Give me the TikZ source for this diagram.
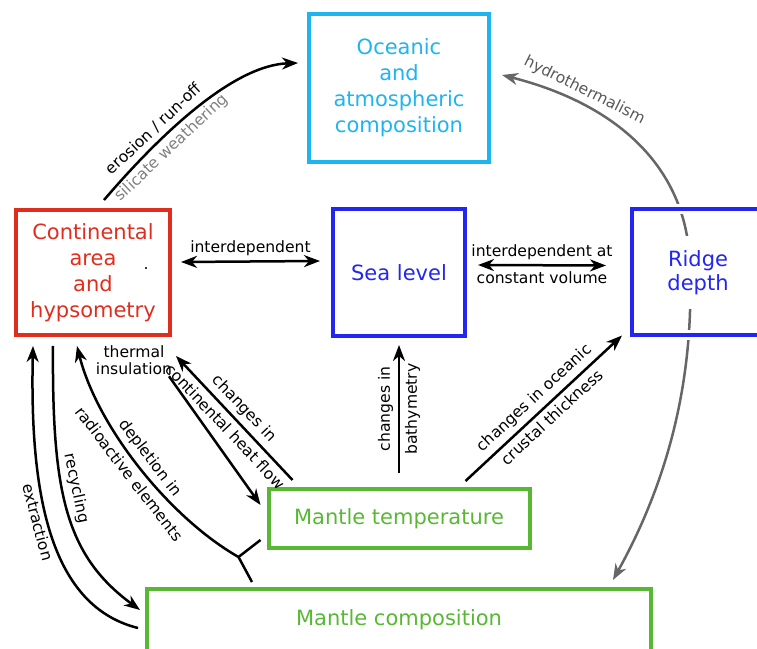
\documentclass[tikz,border=0pt]{standalone}
\usepackage{fontspec}
\setmainfont{DejaVu Sans}
\usepackage{xcolor}
\usepackage{tikz}
\usetikzlibrary{arrows.meta,positioning,backgrounds}
\definecolor{oceanblue}{RGB}{30,180,240}
\definecolor{crustred}{RGB}{224,46,30}
\definecolor{levelblue}{RGB}{34,38,240}
\definecolor{mantlegreen}{RGB}{88,184,52}
\tikzset{
  >={Stealth[length=16pt,width=12pt,inset=5pt]},
  mbox/.style={
    draw,
    line width=4pt,
    align=center,
    inner sep=2pt,
    font=\fontsize{21}{26}\selectfont
  },
  mlab/.style={font=\fontsize{15.6}{16.5}\selectfont,inner xsep=2pt,inner ysep=6pt,outer sep=0pt,align=center},
  mflow/.style={->,draw=black,line width=2.5pt},
  mboth/.style={<->,draw=black,line width=2.5pt},
  mline/.style={draw=black,line width=2.5pt},
  mhydro/.style={->,draw=black!60,line width=2.5pt}
}
\begin{document}
\begin{tikzpicture}[x=1pt,y=1pt]
  \clip (0,0) rectangle (757,648);
  \node[mbox,color=levelblue,minimum width=132pt,minimum height=127pt] (sea) at (399,375.5) {Sea level};
  \node[mbox,color=oceanblue,minimum width=180pt,minimum height=148pt,above=43pt of sea] (ocean) {Oceanic\\and\\atmospheric\\composition};
  \node[mbox,color=crustred,minimum width=154pt,minimum height=125pt,left=159pt of sea] (cont) {Continental\\area\\and\\hypsometry};
  \node[mbox,color=levelblue,minimum width=132pt,minimum height=126pt,right=163pt of sea,
    preaction={draw=white,line width=10pt},
    label={[fill=white,text=levelblue,align=center,font=\fontsize{21}{24}\selectfont,inner xsep=2pt,inner ysep=14.5pt]center:Ridge\\depth}] (ridge) {};
  \node[mbox,color=mantlegreen,minimum width=261pt,minimum height=59pt,below=149pt of sea] (temp) {Mantle temperature};
  \node[mbox,color=mantlegreen,minimum width=504pt,minimum height=80pt,text depth=22pt,below=37pt of temp] (comp) {Mantle composition};
  \node[mlab,inner sep=0pt] (dot) at ([shift={(-26pt,3.5pt)}]cont.east) {.};
  \node[mlab,inner sep=2pt] (insul) at ([shift={(41pt,-23pt)}]cont.south) {thermal\\insulation};

  \coordinate (rmid) at ([shift={(-8pt,2pt)}]ridge.center);
  \coordinate (junc) at ([shift={(-28pt,-7pt)}]temp.south west);
  \begin{scope}[on background layer]
    \draw[mhydro] (rmid) .. controls +(0pt,100pt) and +(118pt,-30pt) .. node[pos=0.76,sloped,above,mlab,text=black!65] {hydrothermalism} ([shift={(11pt,13pt)}]ocean.east);
    \draw[mhydro] (rmid) .. controls +(4pt,-120pt) and +(50pt,90pt) .. ([shift={(214pt,7pt)}]comp.north);
  \end{scope}

  \draw[mflow] ([shift={(11pt,8pt)}]cont.north) .. controls +(60pt,70pt) and +(-63pt,-2pt) .. node[pos=0.31,sloped,above,mlab] {erosion / run-off} node[pos=0.31,sloped,below,mlab,text=black!50] {silicate weathering} ([shift={(-9pt,25pt)}]ocean.west);
  \draw[mboth] ([shift={(9pt,10.5pt)}]cont.east) -- node[above,mlab] {interdependent} ([shift={(-11pt,11.5pt)}]sea.west);
  \draw[mboth] ([shift={(11pt,7.5pt)}]sea.east) -- node[above,mlab] {interdependent at} node[below,mlab] {constant volume} ([shift={(-24pt,7pt)}]ridge.west);
  \draw[mflow] ([yshift=14pt]temp.north) -- node[sloped,above,mlab] {changes in} node[sloped,below,mlab] {bathymetry} ([yshift=-7pt]sea.south);
  \draw[mflow] ([shift={(66.5pt,6pt)}]temp.north) -- node[sloped,above,mlab] {changes in oceanic} node[sloped,below,mlab] {crustal thickness} ([shift={(-8pt,2pt)}]ridge.south west);
  \draw[mflow] ([shift={(26pt,7pt)}]temp.north west) -- node[sloped,above,mlab] {changes in} node[sloped,below,mlab] {continental heat flow} ([shift={(4pt,-19pt)}]cont.south east);
  \draw[mflow] ([shift={(-5pt,0pt)}]insul.south east) -- ([shift={(-6pt,13.5pt)}]temp.west);
  \draw[mline] (junc) -- ([shift={(-6pt,10pt)}]temp.south west);
  \draw[mline] (junc) -- ([shift={(107pt,5pt)}]comp.north west);
  \draw[mflow] (junc) .. controls +(-70pt,40pt) and +(20pt,-80pt) .. node[sloped,above,mlab] {depletion in} node[sloped,below,mlab] {radioactive elements} ([shift={(-16pt,-9pt)}]cont.south);
  \draw[mflow] ([shift={(-7pt,1pt)}]comp.west) .. controls +(-93pt,23pt) and +(-3pt,-135pt) .. node[pos=0.53,sloped,below,mlab,inner ysep=3pt] {extraction} ([shift={(19pt,-9pt)}]cont.south west);
  \draw[mflow] ([shift={(39pt,-9pt)}]cont.south west) .. controls +(-1pt,-145pt) and +(-75pt,55pt) .. node[pos=0.42,sloped,above,mlab] {recycling} ([shift={(-5pt,19pt)}]comp.west);
\end{tikzpicture}
\end{document}
